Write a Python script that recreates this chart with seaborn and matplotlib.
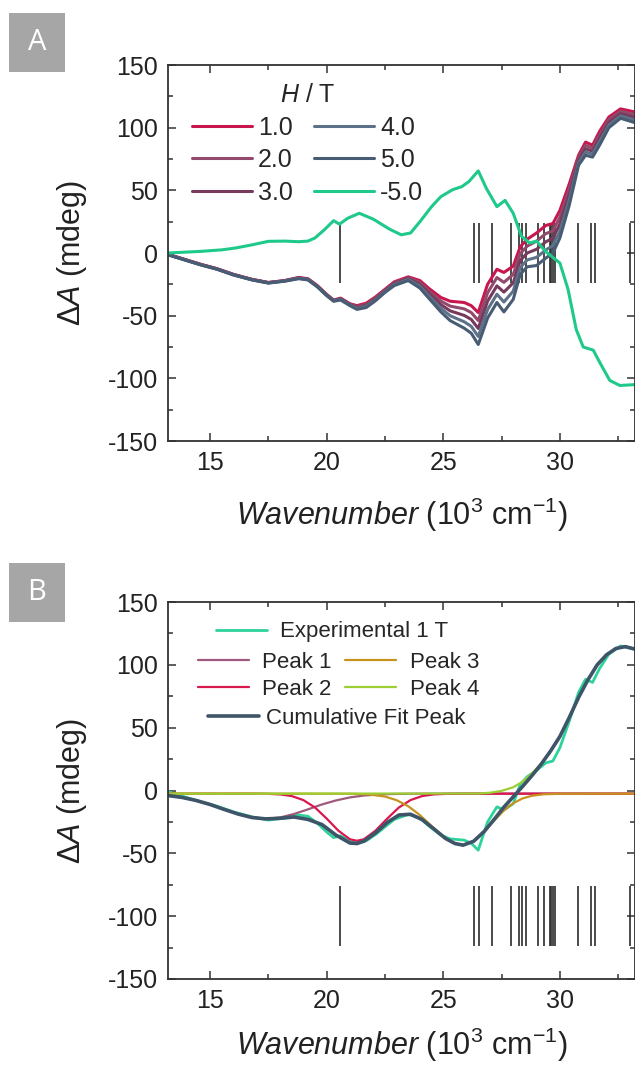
import numpy as np
import pandas as pd
import matplotlib
matplotlib.use("Agg")
import matplotlib.pyplot as plt
import seaborn as sns
from matplotlib.patches import Rectangle
from matplotlib.ticker import MultipleLocator

# ---------------- data: panel A (field-dependent MCD) ----------------
wn_field = [13.2, 13.9, 14.6, 15.3, 16.0, 16.8, 17.5, 18.2, 18.8, 19.2, 19.6, 20.0, 20.3, 20.6,
            21.0, 21.3, 21.7, 22.1, 22.5, 22.9, 23.5, 24.0, 24.4, 24.9, 25.3, 25.9, 26.2, 26.5,
            26.9, 27.3, 27.6, 28.0, 28.3, 28.6, 29.0, 29.4, 29.7, 30.0, 30.4, 30.8, 31.1, 31.4,
            31.7, 32.1, 32.6, 33.22]
dA_1T = [-1, -5, -9, -12.5, -17, -21, -23.5, -22, -19.5, -20.5, -26, -33, -37.5, -36,
         -40.5, -42, -40, -35, -29, -23, -19, -22, -28.5, -35.5, -38.5, -39.5, -42, -47.5,
         -25, -13, -15.5, -10.5, 5, 11, 16, 22, 23.5, 34, 55, 78, 88.5, 86,
         97, 108.5, 115, 112.5]
dA_2T = [-1.1, -5.1, -9.1, -12.6, -17.1, -21.1, -23.6, -22.1, -19.8, -20.8, -26.2, -33.2, -37.8, -36.4,
         -40.9, -42.8, -40.9, -35.8, -29.6, -23.8, -19.8, -23.5, -30.5, -38.4, -42.4, -44.6, -47.5, -53.9,
         -31.8, -19.6, -23.4, -17.1, -0.5, 5.5, 9.5, 15.5, 17.6, 28.5, 50.8, 76, 85.9, 83.6,
         94.2, 106.4, 113.1, 110.4]
dA_3T = [-1.2, -5.2, -9.2, -12.7, -17.2, -21.2, -23.7, -22.2, -20.0, -21.0, -26.5, -33.5, -38.0, -36.8,
         -41.2, -43.5, -41.8, -36.5, -30.2, -24.5, -20.5, -25.0, -32.5, -41.2, -46.2, -49.8, -53.0, -60.2,
         -38.5, -26.2, -31.2, -23.8, -6.0, 0.0, 3.0, 9.0, 11.8, 23.0, 46.5, 74, 83.2, 81.2,
         91.5, 104.2, 111.2, 108.2]
dA_4T = [-1.4, -5.4, -9.4, -12.9, -17.4, -21.4, -23.9, -22.4, -20.2, -21.2, -26.8, -33.8, -38.2, -37.1,
         -41.6, -44.2, -42.6, -37.2, -30.9, -25.2, -21.2, -26.5, -34.5, -44.1, -50.1, -54.9, -58.5, -66.6,
         -45.2, -32.9, -39.1, -30.4, -11.5, -5.5, -3.5, 2.5, 5.9, 17.5, 42.2, 72, 80.6, 78.9,
         88.8, 102.1, 109.4, 106.1]
dA_5T = [-1.5, -5.5, -9.5, -13, -17.5, -21.5, -24, -22.5, -20.5, -21.5, -27, -34, -38.5, -37.5,
         -42, -45, -43.5, -38, -31.5, -26, -22, -28, -36.5, -47, -54, -60, -64, -73,
         -52, -39.5, -47, -37, -17, -11, -10, -4, 0, 12, 38, 70, 78, 76.5,
         86, 100, 107.5, 104]

wn_neg = [13.2, 14.6, 15.5, 16.1, 16.8, 17.5, 18.2, 18.8, 19.2, 19.5, 19.9, 20.3, 20.55, 20.9,
          21.4, 22.0, 22.7, 23.2, 23.6, 24.0, 24.5, 24.9, 25.4, 25.8, 26.1, 26.5, 26.85, 27.3,
          27.65, 28.0, 28.35, 28.7, 29.0, 29.4, 30.0, 30.35, 30.7, 31.0, 31.43, 31.7, 32.14,
          32.57, 33.22]
dA_neg5T = [0, 1.3, 2.5, 4, 6.5, 9.3, 9.5, 9.0, 9.5, 12, 18.5, 25.8, 23, 27.7,
            31.7, 27, 19, 14.5, 16, 25, 37, 45, 50.5, 53, 57, 65.5, 51.5, 37,
            42, 31.7, 13.5, 8, 9.5, 1, -8, -29, -61, -75, -77.5, -87, -101.7,
            -105.7, -105]

field_labels = ["1.0", "2.0", "3.0", "4.0", "5.0", "-5.0"]

# calculated transition positions (stick spectrum)
sticks = [20.58, 26.33, 26.55, 27.09, 27.90, 28.23, 28.37, 28.54, 29.08, 29.30, 29.56,
          29.63, 29.70, 29.80, 30.76, 31.35, 31.50, 33.02]

# ---------------- data: panel B (Gaussian decomposition of 1 T) ----------------
p1_x = [13.2, 13.8, 14.4, 15.0, 15.6, 16.2, 16.8, 17.4, 18.0, 18.6, 19.2, 19.8, 20.4, 21.0,
        21.6, 22.2, 22.8, 23.6, 25.0, 33.22]
p1_y = [-4.0, -5.5, -7.9, -11.1, -15.0, -18.7, -21.5, -22.5, -21.5, -18.7, -15.0, -11.1, -7.9,
        -5.5, -4.0, -3.2, -2.8, -2.6, -2.5, -2.5]
p2_x = [13.2, 17.0, 17.5, 18.0, 18.5, 19.0, 19.5, 20.0, 20.5, 21.0, 21.3, 21.6, 22.1, 22.6,
        23.1, 23.6, 24.1, 24.6, 25.1, 26.0, 33.22]
p2_y = [-2.5, -2.5, -2.7, -3.1, -4.4, -7.6, -13.5, -22.3, -31.9, -38.8, -40.0, -38.8, -31.9,
        -22.3, -13.5, -7.6, -4.4, -3.1, -2.7, -2.5, -2.5]
p3_x = [13.2, 21.0, 21.8, 22.5, 23.0, 23.5, 24.0, 24.5, 25.0, 25.4, 25.85, 26.3, 26.75, 27.2,
        27.6, 28.0, 28.4, 28.8, 29.3, 30.0, 33.22]
p3_y = [-2.5, -2.6, -3.1, -4.8, -7.7, -12.5, -19.6, -28.3, -36.6, -41.4, -43.5, -40.6, -33.0,
        -23.6, -15.9, -10.1, -6.3, -4.2, -3.0, -2.6, -2.5]
p4_x = [13.2, 26.5, 27.0, 27.5, 28.0, 28.4, 28.8, 29.2, 29.6, 30.0, 30.4, 30.8, 31.2, 31.6,
        32.0, 32.4, 32.8, 33.22]
p4_y = [-2.5, -2.4, -1.8, -0.3, 2.6, 7.0, 13.5, 21.5, 31.5, 43, 58, 74, 88, 100,
        108, 113, 114.5, 112.5]
cum_x = [13.2, 13.8, 14.4, 15.0, 15.6, 16.2, 16.8, 17.4, 18.0, 18.6, 19.2, 19.8, 20.4, 21.0,
         21.3, 21.6, 22.1, 22.6, 23.1, 23.6, 24.1, 24.6, 25.1, 25.5, 25.85, 26.3, 26.75, 27.2,
         27.6, 28.0, 28.4, 28.8, 29.2, 29.6, 30.0, 30.4, 30.8, 31.2, 31.6, 32.0, 32.4, 32.8, 33.22]
cum_y = [-4.0, -5.5, -7.9, -11.1, -15.0, -18.7, -21.5, -22.6, -22.1, -21.1, -23.0, -27.1, -35.5,
         -41.8, -42.2, -40.3, -33.7, -25.4, -19.5, -18.9, -23.2, -30.6, -38.2, -42.2, -43.5,
         -40.4, -32.7, -22.6, -13.2, -5.0, 3.2, 11.8, 21.0, 31.4, 43, 58, 74, 88, 100, 108,
         113, 114.5, 112.5]

# ---------------- style ----------------
sns.set_theme(style="ticks")
plt.rcParams["font.family"] = ["Liberation Sans", "DejaVu Sans"]
plt.rcParams["mathtext.fontset"] = "custom"
plt.rcParams["mathtext.rm"] = "Liberation Sans"
plt.rcParams["mathtext.it"] = "Liberation Sans:italic"
plt.rcParams["mathtext.bf"] = "Liberation Sans:bold"
plt.rcParams["axes.unicode_minus"] = False

field_colors = ["#c8174e", "#914a6c", "#773a5c", "#5d7189", "#485c74", "#1ec98a"]
peak_colors = {"exp": "#2ed39b", "p1": "#9c5a7c", "p2": "#d8184e", "p3": "#c8921e",
               "p4": "#9ccf34", "cum": "#3e5468"}
tick_fs = 18
label_fs = 22

fig = plt.figure(figsize=(6.35, 10.68), dpi=100)
axA = fig.add_axes([168 / 635, 1 - 441 / 1068, 467 / 635, 376 / 1068])
axB = fig.add_axes([168 / 635, 1 - 979 / 1068, 467 / 635, 377 / 1068])


def style_axis(ax, xpad):
    ax.set_xlim(13.2, 33.22)
    ax.set_ylim(-150, 150)
    ax.xaxis.set_major_locator(MultipleLocator(5))
    ax.xaxis.set_minor_locator(MultipleLocator(2.5))
    ax.yaxis.set_major_locator(MultipleLocator(50))
    ax.yaxis.set_minor_locator(MultipleLocator(25))
    ax.tick_params(which="both", direction="in", top=True, right=True,
                   color="#333333", width=1.1, labelsize=tick_fs, labelcolor="#222222")
    ax.tick_params(which="major", length=6, pad=7)
    ax.tick_params(which="minor", length=3.5)
    for s in ax.spines.values():
        s.set_color("#333333")
        s.set_linewidth(1.3)
    ax.set_xlabel(r"$\mathit{Wavenumber}$ (10$^3$ cm$^{-1}$)", fontsize=label_fs,
                  color="#222222", labelpad=xpad)
    ax.set_ylabel(r"$\mathit{ΔA}$ (mdeg)", fontsize=label_fs, color="#222222", labelpad=14)


# ---------------- panel A ----------------
field_series = [dA_1T, dA_2T, dA_3T, dA_4T, dA_5T]
handlesA = []
for lab, col, ys in zip(field_labels[:5], field_colors[:5], field_series):
    sns.lineplot(x=wn_field, y=ys, ax=axA, color=col, lw=2.2, label=lab, legend=False,
                 sort=False, estimator=None)
    handlesA.append(axA.lines[-1])
axA.vlines(sticks, -24, 24, color="#2b2b2b", lw=1.2, zorder=1)
sns.lineplot(x=wn_neg, y=dA_neg5T, ax=axA, color=field_colors[5], lw=2.2, label="-5.0",
             legend=False, sort=False, estimator=None)
handlesA.append(axA.lines[-1])
style_axis(axA, 15)
legA = axA.legend(handlesA, field_labels, ncol=2, title=r"$\mathit{H}$ / T",
                  fontsize=tick_fs, title_fontsize=tick_fs, frameon=False,
                  loc="upper left", bbox_to_anchor=(0.051, 0.952), borderpad=0,
                  borderaxespad=0, handlelength=2.4, handletextpad=0.25,
                  columnspacing=0.84, labelspacing=0.34)

# ---------------- panel B ----------------
lw_b = 2.0
sns.lineplot(x=wn_field, y=dA_1T, ax=axB, color=peak_colors["exp"], lw=lw_b,
             label="Experimental 1 T", legend=False, sort=False, estimator=None)
h_exp = axB.lines[-1]
hp = []
for xs, ys, key, lab in [(p1_x, p1_y, "p1", "Peak 1"), (p2_x, p2_y, "p2", "Peak 2"),
                         (p3_x, p3_y, "p3", "Peak 3"), (p4_x, p4_y, "p4", "Peak 4")]:
    sns.lineplot(x=xs, y=ys, ax=axB, color=peak_colors[key], lw=1.6, label=lab,
                 legend=False, sort=False, estimator=None)
    hp.append(axB.lines[-1])
sns.lineplot(x=cum_x, y=cum_y, ax=axB, color=peak_colors["cum"], lw=2.6,
             label="Cumulative Fit Peak", legend=False, sort=False, estimator=None)
h_cum = axB.lines[-1]
axB.vlines(sticks, -124, -76, color="#2b2b2b", lw=1.2, zorder=1)
style_axis(axB, 9)

leg_fs = 16
kw = dict(fontsize=leg_fs, frameon=False, borderpad=0, borderaxespad=0,
          handlelength=2.3, handletextpad=0.6, columnspacing=0.6, labelspacing=0.3,
          loc="center left")
leg1 = axB.legend([h_exp], ["Experimental 1 T"], bbox_to_anchor=(0.1028, 0.921), **kw)
axB.add_artist(leg1)
leg2 = axB.legend(hp, ["Peak 1", "Peak 2", "Peak 3", "Peak 4"], ncol=2,
                  bbox_to_anchor=(0.064, 0.804), **kw)
axB.add_artist(leg2)
kw3 = dict(kw)
kw3["handletextpad"] = 0.3
leg3 = axB.legend([h_cum], ["Cumulative Fit Peak"], bbox_to_anchor=(0.0857, 0.6915), **kw3)

# ---------------- panel letters ----------------
for lab, top in [("A", 13), ("B", 563)]:
    fig.patches.append(Rectangle((9 / 635, 1 - (top + 59) / 1068), 56 / 635, 59 / 1068,
                                 transform=fig.transFigure, facecolor="#a6a6a6",
                                 edgecolor="none"))
    fig.text(37 / 635, 1 - (top + 29.5) / 1068, lab, color="white", fontsize=21,
             family=["Open Sans", "DejaVu Sans"], ha="center", va="center")

fig.savefig("out.png", dpi=100)
